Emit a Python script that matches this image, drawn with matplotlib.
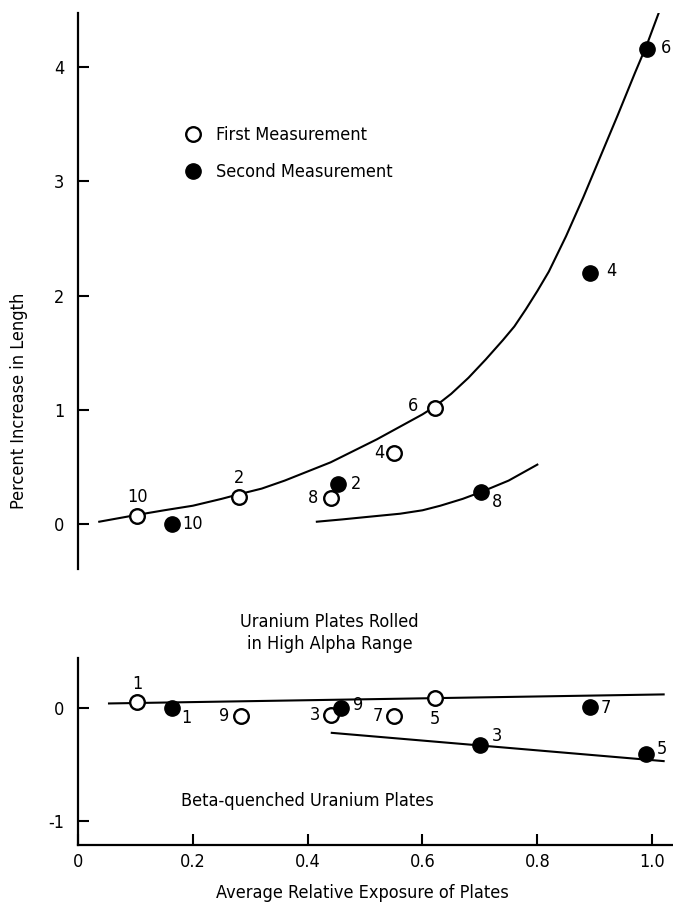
import matplotlib
matplotlib.use('Agg')
import matplotlib.pyplot as plt

plt.rcParams['font.family'] = ['DejaVu Sans']
plt.rcParams['font.stretch'] = 'condensed'
plt.rcParams['font.size'] = 13

# upper panel: plates rolled in high alpha range
up_first_x = [0.103, 0.281, 0.441, 0.551, 0.622]
up_first_y = [0.07, 0.24, 0.23, 0.62, 1.02]
up_first_lbl = ['10', '2', '8', '4', '6']
up_first_off = [(0, 13.5), (0, 13.5), (-13, 0), (-11, 0), (-16, 1)]

up_second_x = [0.163, 0.452, 0.702, 0.892, 0.991]
up_second_y = [0.00, 0.35, 0.28, 2.20, 4.16]
up_second_lbl = ['10', '2', '8', '4', '6']
up_second_off = [(15, 0), (13, 0), (11.5, -7), (15, 1.5), (14, 1)]

# hand drawn curves
curve1_x = [0.037, 0.07, 0.103, 0.15, 0.20, 0.25, 0.28, 0.32, 0.36, 0.40,
            0.44, 0.48, 0.52, 0.56, 0.60, 0.622, 0.65, 0.68, 0.71, 0.74,
            0.76, 0.78, 0.80, 0.82, 0.85, 0.88, 0.91, 0.94, 0.97, 0.991, 1.011]
curve1_y = [0.02, 0.05, 0.08, 0.12, 0.16, 0.22, 0.26, 0.31, 0.38, 0.46,
            0.54, 0.64, 0.74, 0.85, 0.96, 1.03, 1.14, 1.28, 1.44, 1.61,
            1.73, 1.88, 2.04, 2.21, 2.52, 2.86, 3.22, 3.58, 3.95, 4.20, 4.47]
curve2_x = [0.416, 0.46, 0.50, 0.561, 0.60, 0.631, 0.67, 0.702, 0.75, 0.80]
curve2_y = [0.02, 0.04, 0.06, 0.09, 0.12, 0.16, 0.22, 0.28, 0.38, 0.52]

# lower panel: beta-quenched plates
lo_first_x = [0.103, 0.284, 0.440, 0.551, 0.621]
lo_first_y = [0.05, -0.07, -0.06, -0.07, 0.09]
lo_first_lbl = ['1', '9', '3', '7', '5']
lo_first_off = [(0, 13.5), (-12, 0), (-11, 0), (-12, 0), (0, -15)]

lo_second_x = [0.163, 0.458, 0.700, 0.891, 0.990]
lo_second_y = [0.00, 0.00, -0.33, 0.01, -0.41]
lo_second_lbl = ['1', '9', '3', '7', '5']
lo_second_off = [(10.5, -7), (12, 2), (12, 7), (12, -1), (11, 3.5)]

line1_x = [0.054, 1.02]
line1_y = [0.04, 0.12]
line2_x = [0.442, 1.02]
line2_y = [-0.22, -0.47]

fig = plt.figure(figsize=(6.73, 9.02), dpi=100)
ax1 = fig.add_axes([0.1159, 0.3692, 0.883, 0.6164])
ax2 = fig.add_axes([0.1159, 0.0632, 0.883, 0.2073])

open_kw = dict(ls='none', marker='o', ms=10.5, mfc='white', mec='black', mew=1.7)
fill_kw = dict(ls='none', marker='o', ms=11, mfc='black', mec='black')

ax1.plot(curve1_x, curve1_y, color='black', lw=1.5, solid_joinstyle='round')
ax1.plot(curve2_x, curve2_y, color='black', lw=1.5, solid_joinstyle='round')
h1, = ax1.plot(up_first_x, up_first_y, label='First Measurement', **open_kw)
h2, = ax1.plot(up_second_x, up_second_y, label='Second Measurement', **fill_kw)

ax2.plot(line1_x, line1_y, color='black', lw=1.5)
ax2.plot(line2_x, line2_y, color='black', lw=1.5)
ax2.plot(lo_first_x, lo_first_y, **open_kw)
ax2.plot(lo_second_x, lo_second_y, **fill_kw)

def put_labels(ax, xs, ys, lbls, offs):
    for x, y, t, o in zip(xs, ys, lbls, offs):
        ax.annotate(t, (x, y), xytext=o, textcoords='offset points',
                    ha='center', va='center', fontsize=13)

put_labels(ax1, up_first_x, up_first_y, up_first_lbl, up_first_off)
put_labels(ax1, up_second_x, up_second_y, up_second_lbl, up_second_off)
put_labels(ax2, lo_first_x, lo_first_y, lo_first_lbl, lo_first_off)
put_labels(ax2, lo_second_x, lo_second_y, lo_second_lbl, lo_second_off)

ax1.legend(handles=[h1, h2], loc='upper left', frameon=False,
           bbox_to_anchor=(184 / 673, 1 - 126 / 902), bbox_transform=fig.transFigure,
           borderpad=0, borderaxespad=0, handlelength=1.0, handletextpad=0.75,
           labelspacing=1.05, fontsize=13)

ax1.set_xlim(0, 1.035)
ax1.set_ylim(-0.394, 4.475)
ax2.set_xlim(0, 1.035)
ax2.set_ylim(-1.212, 0.442)

for s in ['top', 'right', 'bottom']:
    ax1.spines[s].set_visible(False)
for s in ['top', 'right']:
    ax2.spines[s].set_visible(False)
for ax in (ax1, ax2):
    for s in ['left', 'bottom']:
        ax.spines[s].set_linewidth(1.6)

ax1.set_xticks([])
ax1.set_yticks([0, 1, 2, 3, 4])
ax1.tick_params(axis='y', direction='in', length=8, width=1.5, pad=10, labelsize=13)
ax2.set_yticks([0, -1])
ax2.set_yticklabels(['0', '-1'])
ax2.set_xticks([0, 0.2, 0.4, 0.6, 0.8, 1.0])
ax2.set_xticklabels(['0', '0.2', '0.4', '0.6', '0.8', '1.0'])
ax2.tick_params(axis='y', direction='in', length=8, width=1.5, pad=10, labelsize=13)
ax2.tick_params(axis='x', direction='in', length=8, width=1.5, pad=6, labelsize=13)

ax1.set_ylabel('Percent Increase in Length', fontsize=13)
ax1.yaxis.set_label_coords(-0.084, 0.302)
ax2.set_xlabel('Average Relative Exposure of Plates', fontsize=13)
ax2.xaxis.set_label_coords(0.478, -0.21)

fig.text(329.7 / 673, 1 - 633 / 902, 'Uranium Plates Rolled\nin High Alpha Range',
         ha='center', va='center', linespacing=1.3, fontsize=13)
ax2.text(0.40, -0.82, 'Beta-quenched Uranium Plates', ha='center', va='center', fontsize=13)

fig.savefig('out.png', dpi=100)
